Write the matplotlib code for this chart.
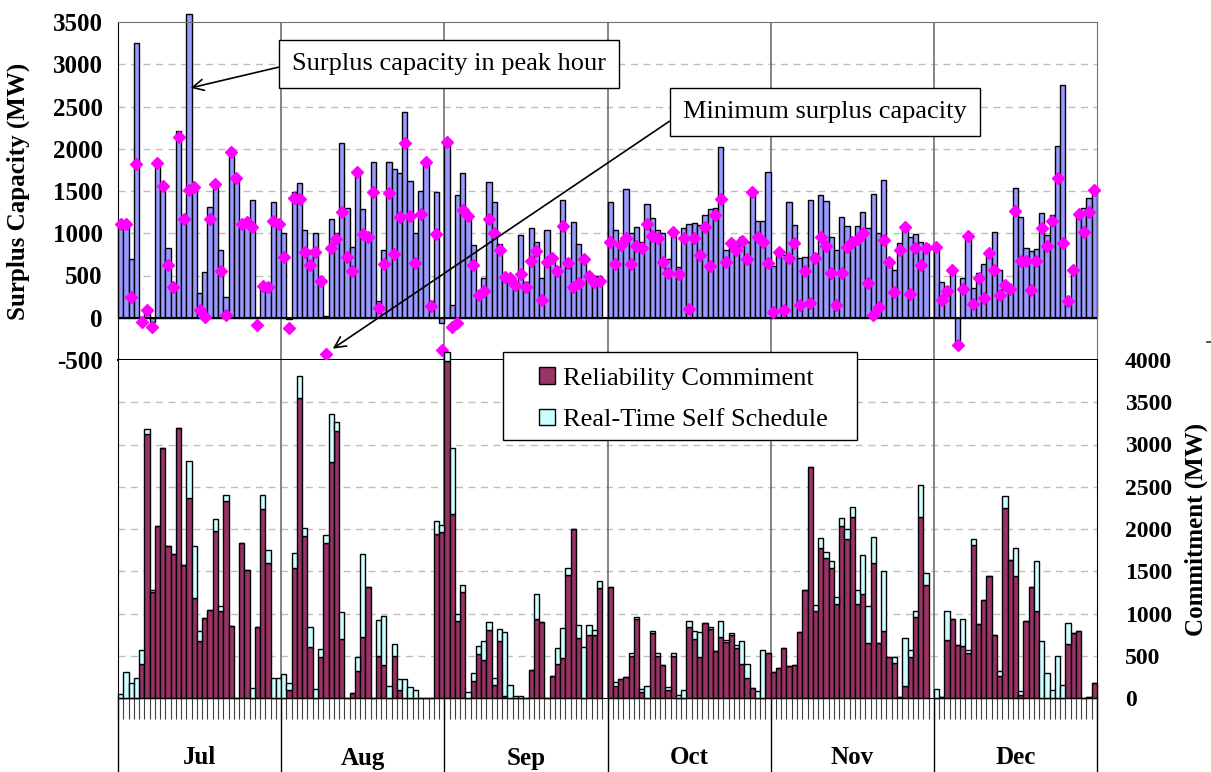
import matplotlib
matplotlib.use('Agg')
import matplotlib.pyplot as plt
import matplotlib.transforms as mtransforms
from matplotlib.patches import Patch, Rectangle
from matplotlib.lines import Line2D
import numpy as np

# ---------------- data ----------------
months = ['Jul', 'Aug', 'Sep', 'Oct', 'Nov', 'Dec']
days_in_month = [31, 31, 30, 31, 30, 31]

# surplus capacity in peak hour (bars, MW)
peak_jul = [1120, 1150, 690, 3250, 10, 60, -50, 1870, 1570, 820, 370, 2210, 1180, 3600, 1560, 290,
            540, 1310, 1580, 800, 240, 2000, 1650, 1120, 1140, 1390, 10, 380, 380, 1370, 1130]
peak_aug = [1000, -15, 1484, 1598, 1038, 800, 999, 470, 20, 1164, 1000, 2064, 1295, 833, 1737, 1287,
            1000, 1847, 200, 800, 1847, 1756, 1709, 2439, 1618, 999, 1500, 1870, 200, 1492, -60]
peak_sep = [2076, 150, 1452, 1709, 1216, 860, 268, 466, 1610, 1374, 876, 505, 470, 426, 979, 426,
            1058, 900, 466, 1038, 722, 600, 1393, 584, 1129, 868, 700, 525, 500, 493]
peak_oct = [1366, 1038, 900, 1524, 999, 1078, 900, 1350, 1184, 1038, 999, 700, 1010, 600, 1066, 1105,
            1117, 1100, 1216, 1287, 1300, 2025, 800, 870, 880, 960, 900, 1500, 1140, 1140, 1722]
peak_nov = [616, 790, 742, 1374, 1097, 703, 714, 1393, 760, 1452, 1385, 951, 800, 1188, 1085, 950,
            1080, 1255, 1060, 1460, 1000, 1634, 700, 560, 888, 1058, 950, 987, 900, 868]
peak_dec = [840, 418, 355, 570, -310, 466, 971, 355, 525, 632, 801, 1018, 564, 426, 355, 1539,
            1188, 829, 793, 813, 1235, 979, 1216, 2037, 2755, 200, 570, 1240, 1303, 1413, 1512]

# minimum surplus capacity (diamonds, MW)
min_jul = [1110, 1105, 250, 1820, -55, 90, -110, 1836, 1563, 624, 359, 2140, 1164, 1508, 1543, 87,
           8, 1164, 1579, 552, 28, 1966, 1650, 1105, 1137, 1074, -91, 371, 359, 1141, 1113]
min_aug = [714, -126, 1421, 1401, 774, 624, 782, 434, -430, 821, 931, 1255, 714, 552, 1729, 987,
           959, 1484, 110, 635, 1480, 754, 1188, 2064, 1208, 643, 1224, 1847, 142, 991, -387]
min_sep = [2076, -107, -60, 1275, 1208, 624, 268, 316, 1168, 999, 801, 478, 466, 387, 513, 367,
           671, 789, 209, 655, 703, 552, 1089, 643, 359, 414, 695, 493, 426, 438]
min_oct = [900, 632, 860, 947, 632, 853, 829, 1105, 971, 947, 663, 525, 1010, 513, 947, 103,
           947, 742, 1070, 616, 1216, 1405, 663, 884, 801, 908, 695, 1492, 959, 900, 643]
min_nov = [71, 774, 87, 703, 880, 150, 552, 170, 710, 959, 853, 533, 150, 525, 833, 900,
           931, 999, 407, 32, 126, 916, 655, 300, 805, 1074, 284, 821, 624, 821]
min_dec = [833, 209, 316, 564, -324, 339, 967, 158, 466, 229, 766, 564, 268, 387, 335, 1263,
           675, 675, 324, 675, 1066, 849, 1149, 1650, 880, 197, 568, 1224, 1018, 1247, 1512]

# reliability commitment (MW)
rel_jul = [0, 0, 0, 0, 403, 3123, 1253, 2032, 2953, 1795, 1700, 3198, 1577, 2368, 1186, 680,
           945, 1036, 1973, 1024, 2328, 850, 0, 1838, 1518, 0, 846, 2241, 1601, 0, 0]
rel_aug = [0, 95, 1542, 3554, 1913, 609, 0, 490, 1834, 2795, 3158, 700, 0, 55, 324, 727,
           1312, 0, 494, 395, 0, 494, 100, 0, 0, 0, 0, 0, 0, 1945, 1965]
rel_sep = [3990, 2182, 909, 1253, 0, 206, 522, 455, 810, 154, 672, 28, 0, 0, 0, 0,
           332, 937, 897, 0, 257, 403, 470, 1459, 1996, 708, 0, 747, 747, 1304]
rel_oct = [1312, 146, 225, 245, 502, 937, 67, 0, 771, 502, 391, 95, 502, 0, 0, 838,
           700, 490, 889, 818, 561, 719, 668, 747, 589, 403, 233, 115, 0, 0, 530]
rel_nov = [312, 356, 589, 383, 391, 779, 1281, 2735, 1024, 1775, 1656, 1538, 1115, 2036, 1878, 2143,
           1115, 1225, 652, 1601, 652, 787, 490, 415, 10, 146, 490, 957, 2143, 1332]
rel_dec = [0, 16, 692, 929, 628, 621, 530, 1814, 878, 1154, 1439, 747, 257, 2253, 1637, 1443,
           36, 909, 1312, 1024, 0, 0, 0, 0, 0, 640, 767, 791, 0, 8, 174]

# real-time self schedule (MW)
rtss_jul = [47, 312, 178, 233, 166, 59, 20, 0, 0, 0, 0, 0, 0, 435, 613, 118,
            0, 0, 150, 63, 79, 0, 0, 0, 0, 115, 0, 158, 146, 233, 233]
rtss_aug = [285, 83, 170, 261, 99, 237, 107, 91, 91, 561, 111, 316, 0, 0, 158, 981,
            0, 0, 431, 573, 146, 142, 130, 225, 126, 95, 0, 0, 0, 150, 87]
rtss_sep = [100, 771, 87, 79, 75, 90, 91, 225, 87, 79, 146, 751, 158, 20, 20, 0,
            0, 296, 0, 0, 0, 190, 360, 79, 0, 158, 609, 111, 63, 79]
rtss_oct = [0, 40, 0, 0, 28, 20, 40, 146, 20, 28, 0, 31, 28, 36, 95, 79,
            98, 289, 0, 28, 0, 198, 24, 24, 39, 269, 170, 0, 87, 573, 0]
rtss_nov = [0, 0, 0, 0, 0, 0, 0, 0, 71, 118, 71, 83, 79, 99, 126, 118,
            158, 471, 435, 304, 0, 711, 0, 67, 0, 566, 83, 71, 383, 146]
rtss_dec = [107, 0, 332, 0, 0, 308, 39, 72, 0, 0, 0, 0, 67, 139, 0, 336,
            51, 0, 0, 593, 672, 296, 95, 502, 158, 249, 0, 0, 0, 0, 0]

peak = [peak_jul, peak_aug, peak_sep, peak_oct, peak_nov, peak_dec]
mins = [min_jul, min_aug, min_sep, min_oct, min_nov, min_dec]
rel = [rel_jul, rel_aug, rel_sep, rel_oct, rel_nov, rel_dec]
rtss = [rtss_jul, rtss_aug, rtss_sep, rtss_oct, rtss_nov, rtss_dec]

# ---------------- style ----------------
SERIF = 'Liberation Serif'
plt.rcParams['font.family'] = [SERIF, 'DejaVu Serif']
C_PEAK = '#9999FF'
C_MIN = '#FF00FF'
C_REL = '#993366'
C_RTSS = '#CCFFFF'
GRID = '#BDBDBD'
MONTHLINE = '#707070'
SLOTS = 31  # each month occupies 31 category slots

W, H = 1211, 772
fig = plt.figure(figsize=(W / 100, H / 100), dpi=100)
left = 118 / W
width = (1097 - 118) / W
ax_top = fig.add_axes([left, 1 - 360 / H, width, 338 / H])
ax_bot = fig.add_axes([left, 1 - 698 / H, width, 338 / H])

xs = [m * SLOTS + np.arange(n) for m, n in enumerate(days_in_month)]
x_all = np.concatenate(xs)
peak_all = np.concatenate([np.array(p, float) for p in peak])
min_all = np.concatenate([np.array(p, float) for p in mins])
rel_all = np.concatenate([np.array(p, float) for p in rel])
rtss_all = np.concatenate([np.array(p, float) for p in rtss])

xlim = (-0.5, 6 * SLOTS - 0.5)
bounds = [m * SLOTS - 0.5 for m in range(1, 6)]

# ---------------- top panel ----------------
ax_top.set_xlim(*xlim)
ax_top.set_ylim(-500, 3500)
for y in range(500, 3500, 500):
    ax_top.axhline(y, color=GRID, lw=1, ls=(0, (5, 4)), zorder=0)
for b in bounds:
    ax_top.axvline(b, color=MONTHLINE, lw=1.2, zorder=1)
ax_top.bar(x_all, peak_all, width=1.0, color=C_PEAK, edgecolor='black', lw=1.0,
           zorder=2, clip_on=False)
ax_top.axhline(0, color='black', lw=1.5, zorder=3)
ax_top.plot(x_all, min_all, ls='none', marker='D', ms=6.5, color=C_MIN, zorder=4,
            clip_on=False)
ax_top.set_yticks(range(-500, 3501, 500))
ax_top.set_yticklabels([str(v) for v in range(-500, 3501, 500)],
                       fontsize=18, fontweight='bold')
ax_top.tick_params(axis='y', length=0, pad=11)
ax_top.set_xticks([])
for s in ['top', 'right']:
    ax_top.spines[s].set_color(MONTHLINE)
ax_top.spines['left'].set_color('black')
ax_top.spines['bottom'].set_color('black')
ax_top.spines['bottom'].set_linewidth(1.5)
ax_top.set_ylabel('Surplus Capacity (MW)', fontsize=18, fontweight='bold', va='center')
ax_top.yaxis.set_label_coords((18 - 118) / 979, 0.5)

box = dict(boxstyle='square,pad=0.5', fc='white', ec='black', lw=1)
arrow = dict(arrowstyle='->', color='black', lw=1.2, relpos=(0, 0.5),
             mutation_scale=20, shrinkA=0, shrinkB=0)
ax_top.annotate('Surplus capacity in peak hour', xy=(13.3, 2720), xycoords='data',
                xytext=(449 / W, 1 - 64 / H), textcoords='figure fraction',
                ha='center', va='center', fontsize=19, bbox=box, arrowprops=arrow,
                zorder=6)
ax_top.annotate('Minimum surplus capacity', xy=(40.3, -366), xycoords='data',
                xytext=(825 / W, 1 - 112 / H), textcoords='figure fraction',
                ha='center', va='center', fontsize=19, bbox=box, arrowprops=arrow,
                zorder=6, annotation_clip=False)

# ---------------- bottom panel ----------------
ax_bot.set_xlim(*xlim)
ax_bot.set_ylim(0, 4000)
for y in range(500, 4000, 500):
    ax_bot.axhline(y, color=GRID, lw=1, ls=(0, (5, 4)), zorder=0)
for b in bounds:
    ax_bot.axvline(b, color=MONTHLINE, lw=1.2, zorder=1)
ax_bot.bar(x_all, rel_all, width=1.0, color=C_REL, edgecolor='black', lw=1.0, zorder=2,
           clip_on=False)
ax_bot.bar(x_all, rtss_all, bottom=rel_all, width=1.0, color=C_RTSS, edgecolor='black',
           lw=1.0, zorder=2, clip_on=False)
ax_bot.yaxis.tick_right()
ax_bot.yaxis.set_label_position('right')
ax_bot.set_yticks(range(0, 4001, 500))
ax_bot.set_yticklabels([str(v) for v in range(0, 4001, 500)], fontsize=17, fontweight='bold')
ax_bot.tick_params(axis='y', length=0, pad=20)
ax_bot.set_ylabel('Commitment (MW)', fontsize=18, fontweight='bold', va='center',
                  rotation=90)
ax_bot.yaxis.set_label_coords((1196 - 118) / 979, 0.5)
ax_bot.spines['top'].set_visible(False)
for s in ['left', 'right', 'bottom']:
    ax_bot.spines[s].set_color('black')

# category axis: day ticks + month groups
ax_bot.set_xticks([])
ax_bot.set_xticks(np.arange(-0.5, 6 * SLOTS, 1), minor=True)
ax_bot.tick_params(axis='x', which='minor', length=15, width=0.8, color='#404040',
                   direction='out')
trans = mtransforms.blended_transform_factory(ax_bot.transData, ax_bot.transAxes)
ybot = -(772 - 698) / 338
for b in [xlim[0]] + bounds + [xlim[1]]:
    ax_bot.plot([b, b], [0, ybot], transform=trans, color='black', lw=1, clip_on=False)
for m, name in enumerate(months):
    ax_bot.text(m * SLOTS + 15, -(758 - 698) / 338, name, transform=trans, ha='center',
                va='center', fontsize=18, fontweight='bold')

# legend: frame drawn as a plain rectangle, entries by the legend machinery
handles = [Patch(facecolor=C_REL, edgecolor='black', label='Reliability Commiment'),
           Patch(facecolor=C_RTSS, edgecolor='black', label='Real-Time Self Schedule')]
frame = Rectangle((503 / W, 1 - 440 / H), (857 - 503) / W, 88 / H, transform=fig.transFigure,
                  fc='white', ec='black', lw=1.0, zorder=9, clip_on=False)
ax_bot.add_artist(frame)
leg = ax_bot.legend(handles=handles, loc='upper left',
                    bbox_to_anchor=(539 / W, 1 - 367 / H), bbox_transform=fig.transFigure,
                    frameon=False, prop={'family': SERIF, 'size': 19},
                    handlelength=0.6, handleheight=0.6, borderpad=0, labelspacing=0.72,
                    handletextpad=0.3, borderaxespad=0)
leg.set_zorder(10)

# small mark at right edge
fig.add_artist(Line2D([1207 / W, 1214 / W], [1 - 342 / H, 1 - 342 / H], color='#333333',
                      lw=1.2))

fig.savefig('out.png', dpi=100)
